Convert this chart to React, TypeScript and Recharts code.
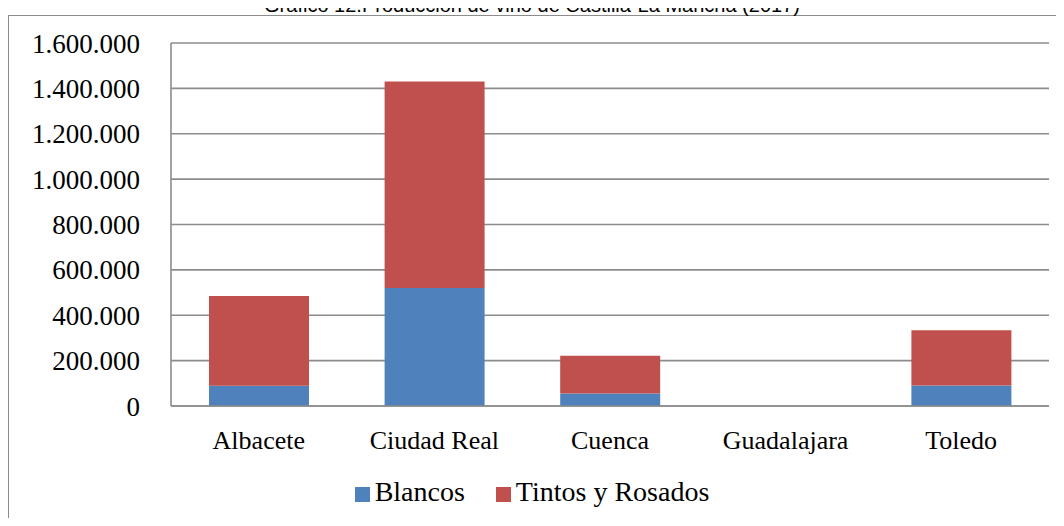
import React from 'react';
import { BarChart, Bar, XAxis, YAxis, CartesianGrid, Legend } from 'recharts';

// --- datos ---
const provincias = ['Albacete', 'Ciudad Real', 'Cuenca', 'Guadalajara', 'Toledo'];
const blancos = [89000, 520000, 55000, 0, 90000];
const tintosRosados = [396000, 910000, 167000, 0, 244000];
const yTicks = [0, 200000, 400000, 600000, 800000, 1000000, 1200000, 1400000, 1600000];

const AZUL = '#4F81BD';
const ROJO = '#C0504D';
const GRIS = '#8c8c8c';
const SERIF = '"Liberation Serif", "DejaVu Serif", serif';

const data = provincias.map((p, i) => ({
  provincia: p,
  Blancos: blancos[i],
  'Tintos y Rosados': tintosRosados[i],
}));

// separador de miles con punto
const fmt = (v: number) => String(v).replace(/\B(?=(\d{3})+(?!\d))/g, '.');

const renderLegend = (props: any) => {
  const { payload = [] } = props;
  return (
    <div style={{ display: 'flex', justifyContent: 'center', alignItems: 'center', fontFamily: SERIF, fontSize: 28, color: '#000' }}>
      {payload.map((entry: any, i: number) => (
        <div key={i} style={{ display: 'flex', alignItems: 'center', marginRight: i === 0 ? 31 : 0 }}>
          <span style={{ display: 'inline-block', width: 15, height: 15, background: entry.color, marginRight: 5, marginTop: 4 }} />
          <span>{entry.value}</span>
        </div>
      ))}
    </div>
  );
};

export default function App() {
  return (
    <div style={{ position: 'relative', margin: -8, width: 1064, height: 526, overflow: 'hidden', background: '#fff' }}>
      {/* marco del gráfico */}
      <div style={{ position: 'absolute', left: 8, top: 15, width: 1100, height: 560, border: `1px solid ${GRIS}`, boxSizing: 'border-box' }} />
      {/* título (recortado arriba, como en el original) */}
      <div style={{ position: 'absolute', left: 0, top: -6, width: 1064, textAlign: 'center', fontFamily: '"Liberation Sans", Arial, sans-serif', fontSize: 20, color: '#000', whiteSpace: 'nowrap' }}>
        Gráfico 12.Producción de vino de Castilla-La Mancha (2017)
      </div>
      <div style={{ position: 'absolute', left: 0, top: 0 }}>
        <BarChart width={1064} height={526} data={data} margin={{ top: 43, right: 15, bottom: 90, left: 0 }} barSize={100}>
          <CartesianGrid vertical={false} stroke={GRIS} strokeWidth={1.6} />
          <XAxis
            dataKey="provincia"
            height={30}
            axisLine={{ stroke: GRIS, strokeWidth: 1.6 }}
            tickLine={false}
            tickMargin={19}
            tick={{ fill: '#000', fontSize: 26, fontFamily: SERIF }}
            interval={0}
          />
          <YAxis
            width={171}
            domain={[0, 1600000]}
            ticks={yTicks}
            tickFormatter={fmt}
            axisLine={{ stroke: GRIS, strokeWidth: 1.6 }}
            tickLine={false}
            tickMargin={25}
            tick={{ fill: '#000', fontSize: 27, fontFamily: SERIF }}
            interval={0}
          />
          <Legend
            verticalAlign="middle"
            align="center"
            layout="horizontal"
            content={renderLegend}
            wrapperStyle={{ top: 476, left: 0, width: 1064, height: 40 }}
          />
          <Bar dataKey="Blancos" stackId="a" fill={AZUL} isAnimationActive={false} />
          <Bar dataKey="Tintos y Rosados" stackId="a" fill={ROJO} isAnimationActive={false} />
        </BarChart>
      </div>
    </div>
  );
}
